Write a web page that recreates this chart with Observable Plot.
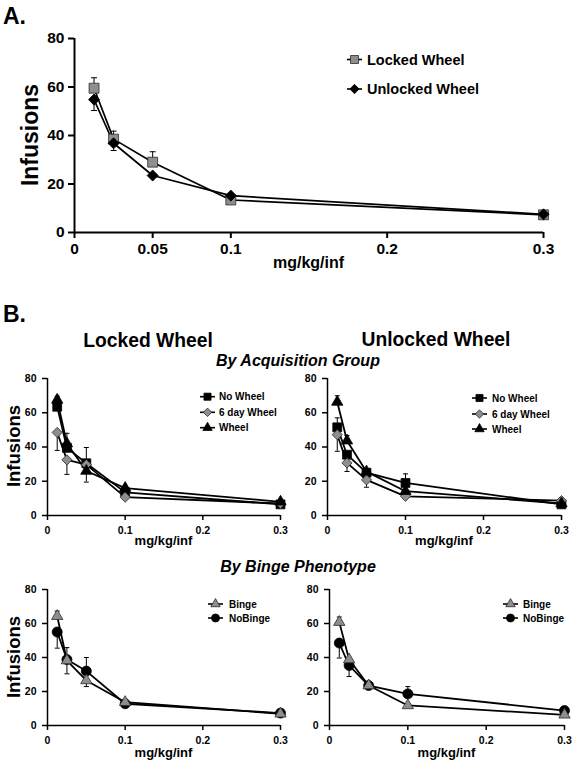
<!DOCTYPE html>
<html><head><meta charset="utf-8">
<script src="https://cdn.jsdelivr.net/npm/d3@7"></script>
<script src="https://cdn.jsdelivr.net/npm/@observablehq/plot@0.6"></script>
<style>
body{margin:0;background:#fff;}
#root{position:relative;width:575px;height:763px;overflow:hidden;background:#fff;}
</style></head><body><div id="root"></div>
<script>
const FONT = '"Liberation Sans", Arial, Helvetica, sans-serif';
const doses = [0.0125, 0.025, 0.05, 0.1, 0.3];
const xTicksA = [0, 0.05, 0.1, 0.2, 0.3];
const xTicksB = [0, 0.1, 0.2, 0.3];
const yTicks = [0, 20, 40, 60, 80];

// Panel A
const aLocked = [59.5, 38.5, 29, 13.4, 7.3];
const aLockedUp = [4.3, 3.3, 4.3, 0, 0];
const aLockedDown = [0, 0, 0, 0, 0];
const aUnlocked = [54.8, 36.8, 23.5, 15.2, 7.5];
const aUnlockedUp = [0, 0, 0, 0, 0];
const aUnlockedDown = [4.5, 3.0, 0, 0, 0];

// Panel B, Locked Wheel, by acquisition group
const lNoWheel = [63.5, 39.5, 30.5, 13.5, 6.5];
const lNoWheelUp = [0, 0, 0, 0, 0];
const lNoWheelDown = [0, 0, 0, 0, 0];
const l6Day = [48.5, 32.5, 29.7, 10.7, 7.0];
const l6DayUp = [0, 0, 10, 0, 0];
const l6DayDown = [10.5, 8.5, 0, 0, 0];
const lWheel = [67.5, 42, 26, 16, 8];
const lWheelUp = [2.2, 6, 0, 0, 0];
const lWheelDown = [0, 0, 6.5, 0, 0];

// Panel B, Unlocked Wheel, by acquisition group
const uNoWheel = [51.5, 35.5, 25, 19, 6.5];
const uNoWheelUp = [5.5, 0, 0, 5.3, 0];
const uNoWheelDown = [0, 0, 0, 0, 0];
const u6Day = [47.2, 30.7, 20.8, 11.2, 8.7];
const u6DayUp = [0, 0, 0, 0, 0];
const u6DayDown = [9.7, 5, 4.3, 0, 0];
const uWheel = [66.3, 43.7, 25.6, 14.2, 7.0];
const uWheelUp = [3.6, 3, 0, 0, 0];
const uWheelDown = [0, 0, 0, 0, 0];

// Panel B, Locked Wheel, by binge phenotype
const lBinge = [64.3, 38.2, 26.5, 13.7, 6.9];
const lBingeUp = [3, 0, 0, 0, 0];
const lBingeDown = [0, 0, 3.6, 0, 0];
const lNoBinge = [55, 38.8, 32, 12.8, 7.3];
const lNoBingeUp = [0, 7, 8, 0, 0];
const lNoBingeDown = [9.5, 8.4, 0, 0, 0];

// Panel B, Unlocked Wheel, by binge phenotype
const uBinge = [60.8, 38.8, 23.5, 11.8, 6.3];
const uBingeUp = [3, 0, 0, 0, 0];
const uBingeDown = [0, 0, 0, 0, 0];
const uNoBinge = [48.5, 35.3, 23.5, 18.6, 8.8];
const uNoBingeUp = [0, 0, 0, 4.3, 0];
const uNoBingeDown = [8.8, 6.5, 0, 0, 0];

const GRAY = "#8e8e8e";
const cap = {draw(ctx, size){ const r = Math.sqrt(size / Math.PI); ctx.moveTo(-r, 0); ctx.lineTo(r, 0); }};

const root = document.getElementById("root");

function panel(cfg) {
  const rows = cfg.series.flatMap(s => doses.map((x, i) => ({x, y: s.vals[i], up: s.up[i], down: s.down[i], name: s.name})));
  const ups = rows.filter(d => d.up > 0), downs = rows.filter(d => d.down > 0);
  const marks = [
    Plot.axisX({ticks: cfg.xticks, tickFormat: d => String(d), tickSize: cfg.tx, tickPadding: cfg.txp, fontSize: cfg.fs, fontWeight: "bold", label: null, strokeWidth: cfg.axisW}),
    Plot.axisY({ticks: yTicks, tickFormat: d => String(d), tickSize: cfg.ty, tickPadding: cfg.typ, fontSize: cfg.fs, fontWeight: "bold", label: null, strokeWidth: cfg.axisW}),
    Plot.ruleY([0], {stroke: "black", strokeWidth: cfg.axisW}),
    Plot.ruleX([0], {stroke: "black", strokeWidth: cfg.axisW}),
    Plot.line(rows, {x: "x", y: "y", z: "name", stroke: "black", strokeWidth: cfg.lineW}),
    Plot.ruleX(ups, {x: "x", y1: "y", y2: d => d.y + d.up, stroke: "black", strokeWidth: 1}),
    Plot.ruleX(downs, {x: "x", y1: "y", y2: d => d.y - d.down, stroke: "black", strokeWidth: 1}),
    Plot.dot(ups, {x: "x", y: d => d.y + d.up, symbol: cap, r: cfg.capR, fill: "none", stroke: "black", strokeWidth: 1}),
    Plot.dot(downs, {x: "x", y: d => d.y - d.down, symbol: cap, r: cfg.capR, fill: "none", stroke: "black", strokeWidth: 1}),
    ...cfg.series.map(s => Plot.dot(rows.filter(d => d.name === s.name), {x: "x", y: "y", symbol: s.symbol, r: s.r, fill: s.fill, stroke: s.fill === "black" ? "black" : "#2a2a2a", strokeWidth: 0.8}))
  ];
  const svg = Plot.plot({
    width: cfg.width, height: cfg.height,
    marginTop: cfg.mt, marginBottom: cfg.mb, marginLeft: cfg.ml, marginRight: cfg.mr,
    x: {domain: [0, 0.3]}, y: {domain: [0, 80]},
    style: {fontFamily: FONT, fontWeight: "bold", fontSize: cfg.fs + "px", background: "transparent", overflow: "visible", color: "black"},
    marks
  });
  svg.style.position = "absolute";
  svg.style.left = cfg.left + "px";
  svg.style.top = cfg.top + "px";
  root.appendChild(svg);
}

const S = (name, vals, up, down, symbol, r, fill) => ({name, vals, up, down, symbol, r, fill});

// Panel A
panel({left: 0, top: 0, width: 575, height: 280, mt: 38, mb: 48, ml: 74, mr: 32,
  xticks: xTicksA, fs: 15.5, tx: 6, txp: 4, ty: 6, typ: 4, axisW: 2, lineW: 1.7, capR: 3,
  series: [
    S("Locked Wheel", aLocked, aLockedUp, aLockedDown, d3.symbolSquare, 5.6, GRAY),
    S("Unlocked Wheel", aUnlocked, aUnlockedUp, aUnlockedDown, d3.symbolDiamond2, 5, "black")
  ]});

const bCommon = {fs: 10.5, tx: 5, txp: 6, ty: 5, typ: 6, axisW: 1.5, lineW: 1.8, capR: 2.5, xticks: xTicksB};
const acq = (nw, nwU, nwD, sd, sdU, sdD, w, wU, wD) => [
  S("No Wheel", nw, nwU, nwD, d3.symbolSquare, 5, "black"),
  S("6 day Wheel", sd, sdU, sdD, d3.symbolDiamond2, 4.6, GRAY),
  S("Wheel", w, wU, wD, d3.symbolTriangle, 4.2, "black")
];
const binge = (b, bU, bD, n, nU, nD) => [
  S("NoBinge", n, nU, nD, d3.symbolCircle, 5, "black"),
  S("Binge", b, bU, bD, d3.symbolTriangle, 4.2, GRAY)
];

panel({...bCommon, left: 0, top: 360, width: 287, height: 195, mt: 18, mb: 40, ml: 47, mr: 7,
  series: acq(lNoWheel, lNoWheelUp, lNoWheelDown, l6Day, l6DayUp, l6DayDown, lWheel, lWheelUp, lWheelDown)});
panel({...bCommon, left: 287, top: 360, width: 288, height: 195, mt: 18, mb: 40, ml: 40, mr: 14,
  series: acq(uNoWheel, uNoWheelUp, uNoWheelDown, u6Day, u6DayUp, u6DayDown, uWheel, uWheelUp, uWheelDown)});
panel({...bCommon, left: 0, top: 572, width: 287, height: 191, mt: 17, mb: 38, ml: 47, mr: 7,
  series: binge(lBinge, lBingeUp, lBingeDown, lNoBinge, lNoBingeUp, lNoBingeDown)});
panel({...bCommon, left: 287, top: 572, width: 288, height: 191, mt: 17, mb: 38, ml: 42, mr: 11,
  series: binge(uBinge, uBingeUp, uBingeDown, uNoBinge, uNoBingeUp, uNoBingeDown)});

// Overlay with titles, axis labels and legends
const ov = d3.create("svg").attr("width", 575).attr("height", 763)
  .style("position", "absolute").style("left", "0px").style("top", "0px")
  .style("pointer-events", "none").style("font-family", FONT).style("font-weight", "bold");
function txt(x, y, s, size, opts = {}) {
  const t = ov.append("text").attr("x", x).attr("y", y).attr("font-size", size).attr("fill", "black")
    .attr("text-anchor", opts.anchor || "start").text(s);
  if (opts.italic) t.attr("font-style", "italic");
  if (opts.rotate) t.attr("transform", `rotate(-90 ${x} ${y})`);
  return t;
}
txt(3, 24, "A.", 23);
txt(38, 135, "Infusions", 23, {anchor: "middle", rotate: true});
txt(308.5, 268, "mg/kg/inf", 16, {anchor: "middle"});

txt(3, 322, "B.", 23);
txt(148, 347, "Locked Wheel", 19.3, {anchor: "middle"});
txt(436, 346, "Unlocked Wheel", 19.3, {anchor: "middle"});
txt(298, 366, "By Acquisition Group", 16, {anchor: "middle", italic: true});
txt(298, 572, "By Binge Phenotype", 16, {anchor: "middle", italic: true});
txt(20, 446, "Infusions", 18.5, {anchor: "middle", rotate: true});
txt(20, 657, "Infusions", 18.5, {anchor: "middle", rotate: true});
txt(163.5, 545, "mg/kg/inf", 13, {anchor: "middle"});
txt(444, 545, "mg/kg/inf", 13, {anchor: "middle"});
txt(163.5, 757, "mg/kg/inf", 13, {anchor: "middle"});
txt(446.5, 757, "mg/kg/inf", 13, {anchor: "middle"});

function legend(items, x1, x2, tx, ys, size) {
  items.forEach((it, i) => {
    const y = ys[i];
    ov.append("line").attr("x1", x1).attr("x2", x2).attr("y1", y).attr("y2", y).attr("stroke", "black").attr("stroke-width", 1.6);
    ov.append("path").attr("d", d3.symbol(it.symbol, it.r * it.r * Math.PI)())
      .attr("transform", `translate(${(x1 + x2) / 2},${y})`)
      .attr("fill", it.fill).attr("stroke", it.fill === "black" ? "black" : "#2a2a2a").attr("stroke-width", 0.8);
    txt(tx, y + size * 0.36, it.name, size);
  });
}
const legA = [
  {name: "Locked Wheel", symbol: d3.symbolSquare, r: 4.5, fill: GRAY},
  {name: "Unlocked Wheel", symbol: d3.symbolDiamond2, r: 4.2, fill: "black"}
];
const legAcq = [
  {name: "No Wheel", symbol: d3.symbolSquare, r: 4, fill: "black"},
  {name: "6 day Wheel", symbol: d3.symbolDiamond2, r: 3.8, fill: GRAY},
  {name: "Wheel", symbol: d3.symbolTriangle, r: 3.5, fill: "black"}
];
const legBinge = [
  {name: "Binge", symbol: d3.symbolTriangle, r: 3.5, fill: GRAY},
  {name: "NoBinge", symbol: d3.symbolCircle, r: 4, fill: "black"}
];
legend(legA, 347, 362, 367, [59.5, 89], 14.5);
legend(legAcq, 200, 215, 219, [396.7, 412.3, 427.7], 10);
legend(legAcq, 472, 487, 492, [398, 414, 429], 10);
legend(legBinge, 208, 223, 229, [604, 618], 10);
legend(legBinge, 503, 518, 523, [604, 618], 10);

root.appendChild(ov.node());
</script></body></html>
